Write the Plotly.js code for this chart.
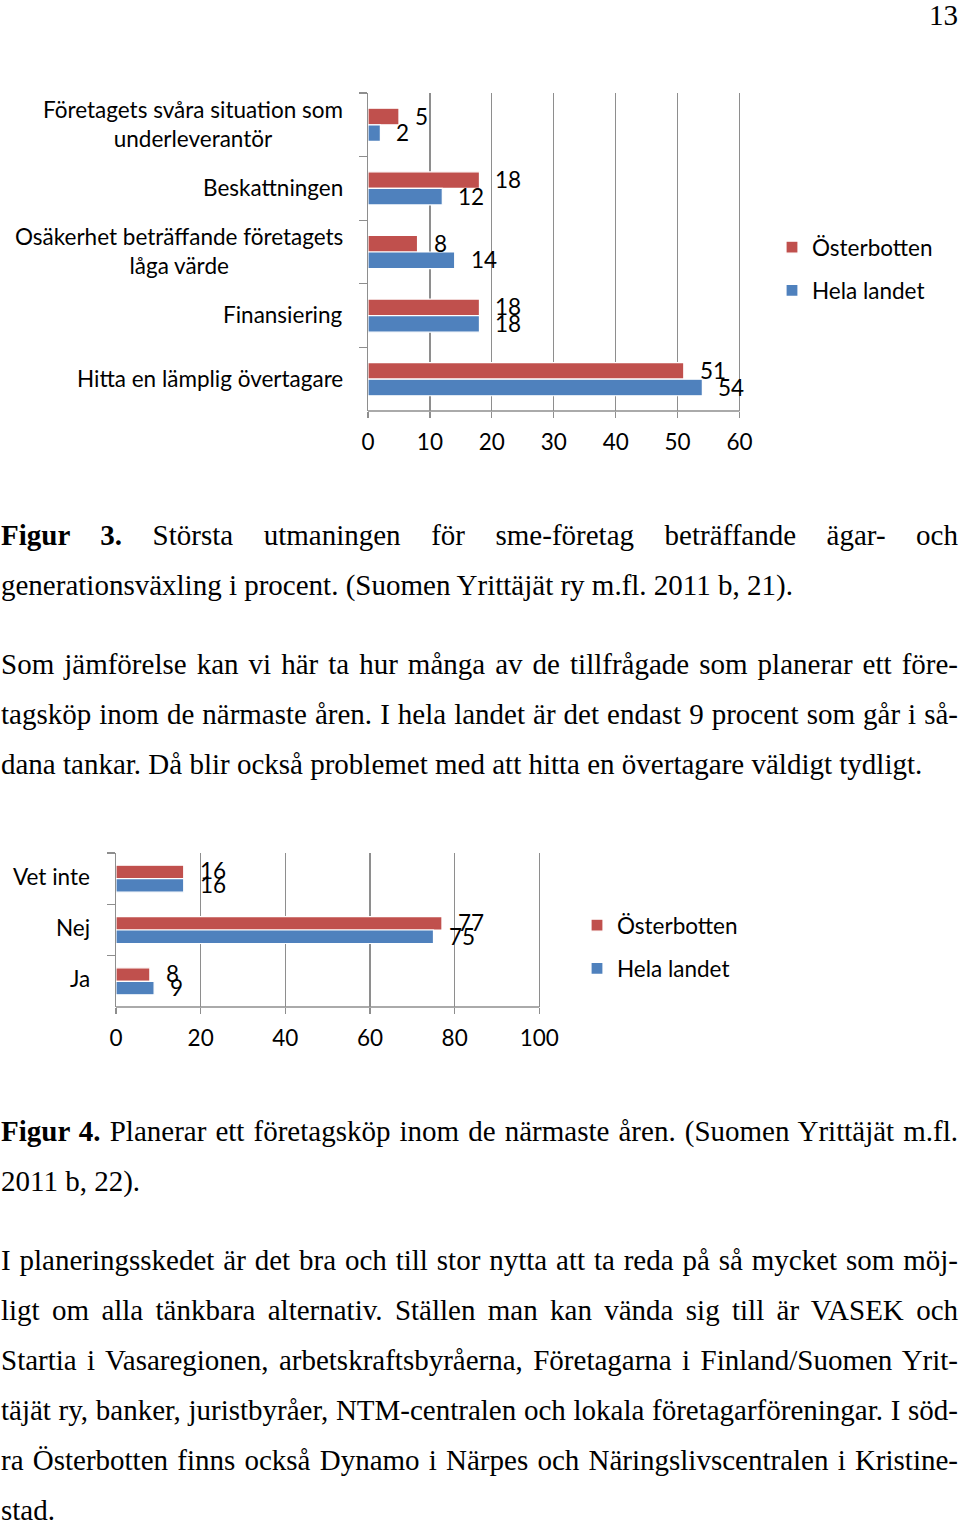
<!DOCTYPE html>
<html>
<head>
<meta charset="utf-8">
<script src="https://cdn.plot.ly/plotly-3.0.1.min.js"></script>
<style>
  html, body { margin:0; padding:0; background:#fff; }
  body { width:960px; height:1521px; position:relative; overflow:hidden; }
  .txt { position:absolute; left:1px; width:957px; font-family:"Liberation Serif","Times New Roman",serif;
         font-size:29px; line-height:50px; height:50px; color:#000; white-space:nowrap; }
  .j { text-align:justify; text-align-last:justify; }
  .l { text-align:left; }
  #pn { position:absolute; right:2px; top:-10px; font-family:"Liberation Serif",serif; font-size:29px; line-height:50px; }
  .chart { position:absolute; left:0; width:960px; }
</style>
</head>
<body>
<div id="pn">13</div>
<div id="c1" class="chart" style="top:80px;height:400px;"></div>
<div class="txt j" style="top:510px"><b>Figur 3.</b> Största utmaningen för sme-företag beträffande ägar- och</div>
<div class="txt l" style="top:560px">generationsväxling i procent. (Suomen Yrittäjät ry m.fl. 2011 b, 21).</div>

<div class="txt j" style="top:639px">Som jämförelse kan vi här ta hur många av de tillfrågade som planerar ett före-</div>
<div class="txt j" style="top:689px">tagsköp inom de närmaste åren. I hela landet är det endast 9 procent som går i så-</div>
<div class="txt l" style="top:739px">dana tankar. Då blir också problemet med att hitta en övertagare väldigt tydligt.</div>

<div id="c2" class="chart" style="top:840px;height:230px;"></div>
<div class="txt j" style="top:1106px"><b>Figur 4.</b> Planerar ett företagsköp inom de närmaste åren. (Suomen Yrittäjät m.fl.</div>
<div class="txt l" style="top:1156px">2011 b, 22).</div>

<div class="txt j" style="top:1235px">I planeringsskedet är det bra och till stor nytta att ta reda på så mycket som möj-</div>
<div class="txt j" style="top:1285px">ligt om alla tänkbara alternativ. Ställen man kan vända sig till är VASEK och</div>
<div class="txt j" style="top:1335px">Startia i Vasaregionen, arbetskraftsbyråerna, Företagarna i Finland/Suomen Yrit-</div>
<div class="txt j" style="top:1385px">täjät ry, banker, juristbyråer, NTM-centralen och lokala företagarföreningar. I söd-</div>
<div class="txt j" style="top:1435px">ra Österbotten finns också Dynamo i Närpes och Näringslivscentralen i Kristine-</div>
<div class="txt l" style="top:1485px">stad.</div>

<script>
// ---- Data ----
const seriesNames = ["Österbotten", "Hela landet"];
const cats1 = ["Företagets svåra situation som<br>underleverantör", "Beskattningen",
               "Osäkerhet beträffande företagets<br>låga värde", "Finansiering", "Hitta en lämplig övertagare"];
const oster1 = [5, 18, 8, 18, 51];
const hela1  = [2, 12, 14, 18, 54];
const xticks1 = [0, 10, 20, 30, 40, 50, 60];

const cats2 = ["Vet inte", "Nej", "Ja"];
const oster2 = [16, 77, 8];
const hela2  = [16, 75, 9];
const xticks2 = [0, 20, 40, 60, 80, 100];

// ---- Styles ----
const colors = ["#C0504D", "#4F81BD"];
const FONT = "Lato, 'Open Sans', sans-serif";
const FS = 22.5;
const gridC = "#8e8e8e";

function build(div, cats, s1, s2, xticks, opt) {
  const series = [s1, s2];
  const xmax = xticks[xticks.length - 1];
  const traces = series.map((vals, i) => ({
    type: "bar", orientation: "h", name: seriesNames[i],
    y: cats, x: vals, legendgroup: "g" + i,
    marker: { color: colors[i], line: { color: "#ffffff", width: 1.2 } },
    hoverinfo: "none"
  }));
  const annotations = [];
  cats.forEach(c => annotations.push({
    xref: "paper", yref: "y", x: 0, y: c, text: c, showarrow: false,
    xanchor: "right", yanchor: "middle", align: "center", xshift: opt.labShift, yshift: opt.catY,
    font: { family: FONT, size: FS, color: "#000" }
  }));
  series.forEach((vals, i) => vals.forEach((v, k) => annotations.push({
    xref: "x", yref: "y", x: v, y: cats[k], text: String(v), showarrow: false,
    xanchor: "left", yanchor: "middle", xshift: 14,
    yshift: (i === 0 ? opt.barHalf : -opt.barHalf) + opt.valY,
    font: { family: FONT, size: FS, color: "#000" }
  })));
  const plotW = 960 - opt.l - opt.r;
  const ext = xmax * 1.004;
  const layout = {
    width: 960, height: opt.h,
    margin: { l: opt.l, r: 960 - opt.l - plotW * 1.004, t: opt.t, b: opt.b, pad: 0 },
    paper_bgcolor: "#fff", plot_bgcolor: "#fff",
    barmode: "group", bargap: opt.bargap, bargroupgap: 0,
    font: { family: FONT, size: FS, color: "#000" },
    xaxis: {
      range: [0, ext], tickvals: xticks, ticktext: xticks.map(String),
      showgrid: true, gridcolor: gridC, gridwidth: 1.3, zeroline: false,
      showline: false,
      ticks: "outside", ticklen: 6, tickcolor: gridC, tickwidth: 1.3,
      ticklabelstandoff: opt.stand, tickfont: { family: FONT, size: FS, color: "#000" },
      fixedrange: true
    },
    yaxis: {
      type: "category", autorange: "reversed", showticklabels: false,
      showline: true, linecolor: gridC, linewidth: 1.3,
      ticks: "outside", tickson: "boundaries", ticklen: 8, tickcolor: gridC, tickwidth: 1.3,
      showgrid: false, fixedrange: true
    },
    shapes: [{
      type: "line", xref: "x", yref: "paper", x0: 0, x1: xmax, y0: 0, y1: 0,
      line: { color: gridC, width: 1.3 }
    }],
    showlegend: true,
    legend: {
      xref: "container", yref: "container", x: opt.legX, y: opt.legY,
      xanchor: "left", yanchor: "top", traceorder: "grouped", tracegroupgap: 11,
      font: { family: FONT, size: FS, color: "#000" }, bgcolor: "rgba(0,0,0,0)"
    },
    annotations: annotations
  };
  Plotly.newPlot(div, traces, layout, { staticPlot: true, displayModeBar: false });
}

build("c1", cats1, oster1, hela1, xticks1, {
  h: 400, l: 368, r: 220, t: 13, b: 69, bargap: 0.48, barHalf: 8.3, catY: 1, valY: 0.5,
  labShift: -23, stand: 5, legX: 772 / 960, legY: 1 - 146 / 400
});
build("c2", cats2, oster2, hela2, xticks2, {
  h: 230, l: 116, r: 421, t: 12.5, b: 62.5, bargap: 0.475, barHalf: 7, catY: 2.5, valY: 1,
  labShift: -24, stand: 5, legX: 577 / 960, legY: 1 - 64 / 230
});
</script>
</body>
</html>
